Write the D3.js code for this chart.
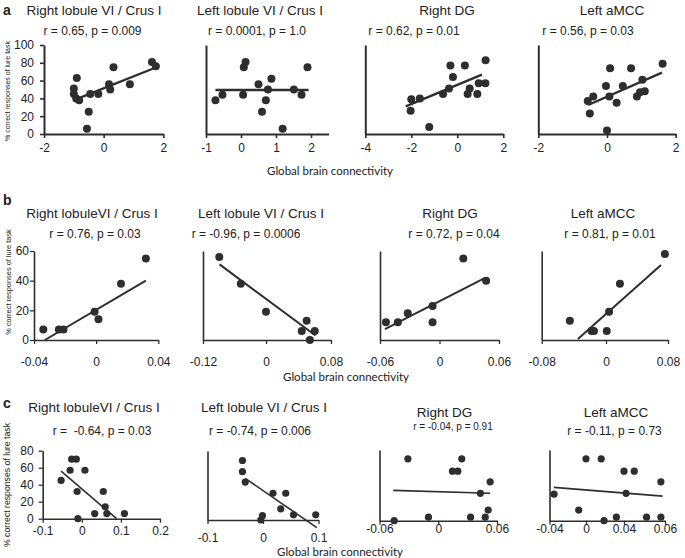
<!DOCTYPE html>
<html><head><meta charset="utf-8">
<script src="https://cdn.jsdelivr.net/npm/d3@7"></script>
<style>
body{margin:0;background:#fff}
svg{display:block}
text{font-family:"Liberation Sans",Arial,sans-serif;fill:#222}
</style></head><body>
<svg id="chart" width="685" height="558"></svg>
<script>
// ---------------- data ----------------
const rowLetters = ["a", "b", "c"];
const titlesA = ["Right lobule VI / Crus I", "Left lobule VI / Crus I", "Right DG", "Left aMCC"];
const titlesB = ["Right lobuleVI / Crus I", "Left lobule VI / Crus I", "Right DG", "Left aMCC"];
const titlesC = ["Right lobuleVI / Crus I", "Left lobule VI / Crus I", "Right DG", "Left aMCC"];
const statsA = ["r = 0.65, p = 0.009", "r = 0.0001, p = 1.0", "r = 0.62, p = 0.01", "r = 0.56, p = 0.03"];
const statsB = ["r = 0.76, p = 0.03", "r = -0.96, p = 0.0006", "r = 0.72, p = 0.04", "r = 0.81, p = 0.01"];
const statsC = ["r =  -0.64, p = 0.03", "r = -0.74, p = 0.006", "r = -0.04, p = 0.91", "r = -0.11, p = 0.73"];
const yAxisTitle = "% correct responses of lure task";
const xAxisTitle = "Global brain connectivity";

const yTicksA = [0, 20, 40, 60, 80, 100];
const yTicksB = [0, 20, 40, 60];
const yTicksC = [0, 20, 40, 60, 80];

const xTicksA1 = [-2, 0, 2];
const xTicksA2 = [-1, 0, 1, 2];
const xTicksA3 = [-4, -2, 0, 2];
const xTicksA4 = [-2, 0, 2];
const xTicksB1 = [-0.04, 0, 0.04];
const xTicksB2 = [-0.12, 0, 0.08];
const xTicksB3 = [-0.06, 0, 0.06];
const xTicksB4 = [-0.08, 0, 0.08];
const xTicksC1 = [-0.1, 0, 0.1, 0.2];
const xTicksC2 = [-0.1, 0, 0.1];
const xTicksC3 = [-0.06, 0, 0.06];
const xTicksC4 = [-0.04, 0, 0.04, 0.06];

// points (x = global brain connectivity, y = % correct responses)
const a1X = [1.62, 1.75, 0.33, -0.9, -1.0, -1.0, -0.92, -0.82, -0.45, -0.18, 0.18, 0.22, 0.88, -0.5, -0.56];
const a1Y = [81, 76, 75, 63, 51, 45, 40, 38, 45, 45, 56, 50, 56, 25, 6];
const a2X = [-0.73, -0.53, 0.06, 0.08, 0.13, 0.5, 0.77, 0.87, 0.71, 0.6, 1.19, 1.51, 1.73, 1.9];
const a2Y = [38, 44, 44, 75, 81, 56, 50, 62, 38, 25, 6, 50, 44, 75];
const a3X = [-2.03, -2.0, -1.63, -1.22, -0.62, -0.36, -0.3, -0.19, 0.33, 0.54, 0.45, 0.87, 0.93, 1.22, 1.23];
const a3Y = [26, 39, 40, 8, 45, 51, 77, 64, 77, 51, 45, 45, 57, 57, 83];
const a4X = [-0.56, -0.4, -0.5, 0, -0.03, 0.09, 0.07, 0.28, 0.46, 0.7, 0.87, 0.96, 1.1, 1.03, 1.62];
const a4Y = [37, 42, 23, 4, 54, 74, 42, 35, 54, 74, 42, 47, 48, 61, 79];

const b1X = [-0.034, -0.024, -0.021, -0.001, 0.0015, 0.016, 0.032];
const b1Y = [7, 7, 7, 19, 14, 38, 55];
const b2X = [-0.089, -0.048, 0.0, 0.044, 0.05, 0.054, 0.06];
const b2Y = [56, 38, 19, 6, 13, 0, 6];
const b3X = [-0.054, -0.042, -0.032, -0.007, -0.007, 0.024, 0.047];
const b3Y = [12, 12, 18, 23, 12, 55, 40];
const b4X = [-0.045, -0.018, -0.015, 0.001, 0.004, 0.018, 0.076];
const b4Y = [13, 6, 6, 6, 19, 38, 58];

const c1X = [-0.053, -0.03, -0.026, -0.014, -0.012, -0.01, 0.008, 0.033, 0.055, 0.06, 0.064, 0.109];
const c1Y = [45, 57, 70, 70, 32, 0, 57, 6, 32, 14, 6, 6];
const c2X = [-0.037, -0.037, -0.032, -0.001, -0.004, 0.018, 0.041, 0.032, 0.055, 0.095];
const c2Y = [69, 56, 44, 5, 0, 31, 31, 13, 6, 6];
const c3X = [-0.045, -0.031, -0.01, 0.0145, 0.02, 0.024, 0.033, 0.043, 0.048, 0.051, 0.053];
const c3Y = [0, 70, 4, 56, 56, 70, 4, 31, 4, 12, 44];
const c4X = [-0.035, -0.008, 0.0, 0.016, 0.019, 0.032, 0.04, 0.045, 0.041, 0.051, 0.058, 0.058];
const c4Y = [30, 12, 70, 70, 0, 4, 56, 56, 31, 4, 44, 4];

// regression line end points [x, y]
const a1Fit = [[-0.85, 40], [1.77, 75]];
const a2Fit = [[-0.73, 49.5], [1.93, 49.5]];
const a3Fit = [[-2.24, 31], [1.07, 66.6]];
const a4Fit = [[-0.55, 32.6], [1.6, 69]];
const b1Fit = [[-0.033, 0], [0.032, 40]];
const b2Fit = [[-0.0885, 51], [0.061, 3]];
const b3Fit = [[-0.055, 7.4], [0.045, 41.6]];
const b4Fit = [[-0.035, 0.7], [0.071, 50.6]];
const c1Fit = [[-0.053, 56], [0.089, 0]];
const c2Fit = [[-0.032, 48.3], [0.097, -8.9]];
const c3Fit = [[-0.046, 34.3], [0.053, 31]];
const c4Fit = [[-0.0353, 37.7], [0.0588, 27.8]];

// ---------------- layout ----------------
const rowsLayout = [
  {letter: rowLetters[0], letterY: 15, titles: titlesA, stats: statsA, yDomain: [0, 100], yTicks: yTicksA,
   yTitle: {x: 8, y: 91, size: 7}, xTitle: {x: 330, y: 175}, r: 4, fitW: 2.4, axisW: 2},
  {letter: rowLetters[1], letterY: 205, titles: titlesB, stats: statsB, yDomain: [0, 60], yTicks: yTicksB,
   yTitle: {x: 8, y: 282, size: 7.4}, xTitle: {x: 346, y: 381}, r: 4, fitW: 2, axisW: 1.6},
  {letter: rowLetters[2], letterY: 408, titles: titlesC, stats: statsC, yDomain: [0, 80], yTicks: yTicksC,
   yTitle: {x: 7, y: 485, size: 8.7}, xTitle: {x: 340, y: 556}, r: 3.6, fitW: 1.6, axisW: 1.6}
];

const panels = [
  // row a
  {row: 0, col: 0, xs: a1X, ys: a1Y, fit: a1Fit, xTicks: xTicksA1, xd: [-2, 2], xr: [44, 163.3], yr: [134, 45],
   yLabels: true, yPad: 6, xPad: 5, tx: 94, ty: 15, sx: 92.5, sy: 34.5, ss: 12},
  {row: 0, col: 1, xs: a2X, ys: a2Y, fit: a2Fit, xTicks: xTicksA2, xd: [-1, 2.5], xr: [206, 328.5], yr: [134, 45],
   xPad: 5, tx: 260, ty: 15, sx: 257, sy: 34.5, ss: 12},
  {row: 0, col: 2, xs: a3X, ys: a3Y, fit: a3Fit, xTicks: xTicksA3, xd: [-4, 2], xr: [365.3, 503.3], yr: [134, 45],
   xPad: 5, tx: 447, ty: 15, sx: 414, sy: 34.5, ss: 12},
  {row: 0, col: 3, xs: a4X, ys: a4Y, fit: a4Fit, xTicks: xTicksA4, xd: [-2, 2], xr: [538.3, 675.7], yr: [134, 45],
   xPad: 5, tx: 612, ty: 15, sx: 588, sy: 34.5, ss: 12},
  // row b
  {row: 1, col: 0, xs: b1X, ys: b1Y, fit: b1Fit, xTicks: xTicksB1, xd: [-0.04, 0.04], xr: [34, 158.3], yr: [340, 251],
   yLabels: true, yPad: 1, xPad: 13.5, tx: 92, ty: 218, sx: 95, sy: 237.5, ss: 12},
  {row: 1, col: 1, xs: b2X, ys: b2Y, fit: b2Fit, xTicks: xTicksB2, xd: [-0.12, 0, 0.08], xr: [203, 266, 331], yr: [340, 251],
   xPad: 13.5, tx: 261, ty: 218, sx: 246, sy: 237.5, ss: 12},
  {row: 1, col: 2, xs: b3X, ys: b3Y, fit: b3Fit, xTicks: xTicksB3, xd: [-0.06, 0.06], xr: [380, 499], yr: [340, 251],
   xPad: 13.5, tx: 450, ty: 218, sx: 454, sy: 237.5, ss: 12},
  {row: 1, col: 3, xs: b4X, ys: b4Y, fit: b4Fit, xTicks: xTicksB4, xd: [-0.08, 0, 0.08], xr: [541.7, 606, 668], yr: [340, 251],
   xPad: 13.5, tx: 603, ty: 218, sx: 610, sy: 237.5, ss: 12},
  // row c
  {row: 2, col: 0, xs: c1X, ys: c1Y, fit: c1Fit, xTicks: xTicksC1, xd: [-0.1, 0.2], xr: [42.7, 160], yr: [518.7, 450.7],
   yLabels: true, yPad: 5, xPad: 3.5, tx: 94, ty: 411.5, sx: 102, sy: 435, ss: 12},
  {row: 2, col: 1, xs: c2X, ys: c2Y, fit: c2Fit, xTicks: xTicksC2, xd: [-0.1, 0.1], xr: [207.5, 318.5], yr: [520, 451],
   xPad: 9.5, tx: 264, ty: 411.5, sx: 260, sy: 435, ss: 12},
  {row: 2, col: 2, xs: c3X, ys: c3Y, fit: c3Fit, xTicks: xTicksC3, xd: [-0.06, 0.06], xr: [379.5, 497], yr: [520.7, 450],
   xPad: 0, tx: 444.5, ty: 416.5, sx: 453, sy: 430, ss: 10},
  {row: 2, col: 3, xs: c4X, ys: c4Y, fit: c4Fit, xTicks: xTicksC4, xd: [-0.04, 0, 0.04, 0.06], xr: [549.5, 586, 624, 665], yr: [520.7, 450],
   xPad: 0, tx: 616, ty: 416.5, sx: 614.5, sy: 435, ss: 12}
];

// ---------------- drawing ----------------
const svg = d3.select("#chart");
const fmt = d => d === 0 ? "0" : String(d);
const ink = "#2e2e2e";

rowsLayout.forEach(R => {
  svg.append("text").attr("x", 3).attr("y", R.letterY)
    .style("font-size", "14px").style("font-weight", "bold").text(R.letter);
  svg.append("text")
    .attr("transform", `translate(${R.yTitle.x},${R.yTitle.y}) rotate(-90)`)
    .attr("text-anchor", "middle").attr("dy", "0.35em")
    .style("font-size", R.yTitle.size + "px").text(yAxisTitle);
  svg.append("text").attr("x", R.xTitle.x).attr("y", R.xTitle.y)
    .attr("text-anchor", "middle")
    .style("font-family", "Lato, 'Open Sans', sans-serif").style("font-size", "11.5px")
    .text(xAxisTitle);
});

panels.forEach(P => {
  const R = rowsLayout[P.row];
  const x = d3.scaleLinear().domain(P.xd).range(P.xr);
  const y = d3.scaleLinear().domain(R.yDomain).range(P.yr);
  const g = svg.append("g");

  // titles
  g.append("text").attr("x", P.tx).attr("y", P.ty).attr("text-anchor", "middle")
    .style("font-size", "13.5px").text(R.titles[P.col]);
  g.append("text").attr("x", P.sx).attr("y", P.sy).attr("text-anchor", "middle")
    .style("font-size", P.ss + "px").style("white-space", "pre").text(R.stats[P.col]);

  // x axis
  const xAxis = d3.axisBottom(x).tickValues(P.xTicks).tickFormat(fmt)
    .tickSize(4).tickSizeOuter(0).tickPadding(P.xPad);
  const gx = g.append("g").attr("transform", `translate(0,${P.yr[0]})`).call(xAxis);
  // y axis
  const yAxis = d3.axisLeft(y).tickValues(P.yLabels ? R.yTicks : []).tickFormat(fmt)
    .tickSize(4).tickSizeOuter(0).tickPadding(P.yPad || 4);
  const gy = g.append("g").attr("transform", `translate(${P.xr[0]},0)`).call(yAxis);

  [gx, gy].forEach(a => {
    a.select(".domain").attr("stroke", ink).attr("stroke-width", R.axisW);
    a.selectAll(".tick line").attr("stroke", ink).attr("stroke-width", R.axisW * 0.8);
    a.selectAll(".tick text").attr("fill", "#222")
      .style("font-family", "'Liberation Sans', Arial, sans-serif").style("font-size", "12px");
  });

  // regression line
  g.append("line")
    .attr("x1", x(P.fit[0][0])).attr("y1", y(P.fit[0][1]))
    .attr("x2", x(P.fit[1][0])).attr("y2", y(P.fit[1][1]))
    .attr("stroke", ink).attr("stroke-width", R.fitW);

  // points
  g.selectAll("circle").data(d3.range(P.xs.length)).join("circle")
    .attr("cx", i => x(P.xs[i])).attr("cy", i => y(P.ys[i]))
    .attr("r", R.r).attr("fill", ink);
});
</script>
</body></html>
